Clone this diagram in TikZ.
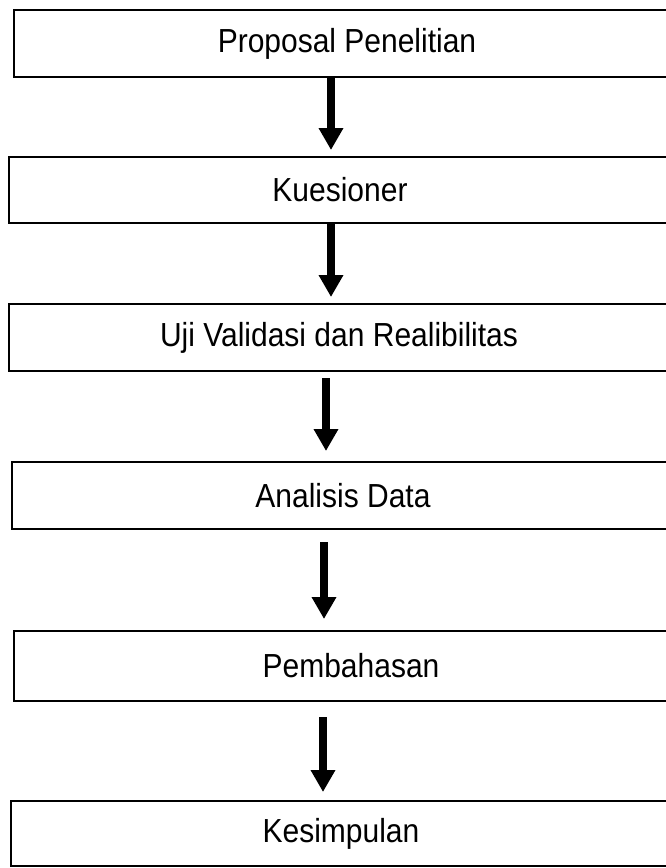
\documentclass[tikz,border=0pt]{standalone}
\usepackage{fontspec}
\setmainfont{Liberation Sans}[FakeStretch=0.9]
\usepackage{tikz}
\usetikzlibrary{arrows.meta, positioning}

\tikzset{
  stage/.style={draw, line width=1.5pt, inner sep=0pt, align=center,
    font=\fontsize{25}{29}\selectfont},
  flow/.style={line width=5.8pt, -{Triangle[length=16.5pt, width=17.5pt]}}
}

\begin{document}
\begin{tikzpicture}[x=0.75pt, y=-0.75pt]% Alur penelitian
  \useasboundingbox (0,0) rectangle (666,868);
  % kotak tahapan
  \node[stage, minimum width=499.5pt, minimum height=50.25pt] (prop) at (347,43.5) {Proposal Penelitian};
  \node[stage, minimum width=496.5pt, minimum height=49.5pt] (kues) at (340,190) {Kuesioner};
  \node[stage, minimum width=495pt, minimum height=50.25pt] (uji) at (339,337.5) {Uji Validasi dan Realibilitas};
  \node[stage, minimum width=496.5pt, minimum height=50.25pt] (anal) at (343,495.5) {Analisis Data};
  \node[stage, minimum width=505.5pt, minimum height=52.5pt] (bahas) at (351,666) {Pembahasan};
  \node[stage, minimum width=495pt, minimum height=48.75pt] (simp) at (341,833.5) {Kesimpulan};
  % jalur panah
  \coordinate (c1) at (331,0);
  \coordinate (c3) at (326,0);
  \coordinate (c4) at (324,0);
  \coordinate (c5) at (323,0);
  \draw[flow, shorten >=4.5pt] (prop.south -| c1) -- (kues.north -| c1);
  \draw[flow, shorten >=4.5pt] (kues.south -| c1) -- (uji.north -| c1);
  \draw[flow, shorten <=4.5pt, shorten >=7.5pt] (uji.south -| c3) -- (anal.north -| c3);
  \draw[flow, shorten <=9pt, shorten >=8.25pt] (anal.south -| c4) -- (bahas.north -| c4);
  \draw[flow, shorten <=11.25pt, shorten >=6pt] (bahas.south -| c5) -- (simp.north -| c5);
\end{tikzpicture}
\end{document}
